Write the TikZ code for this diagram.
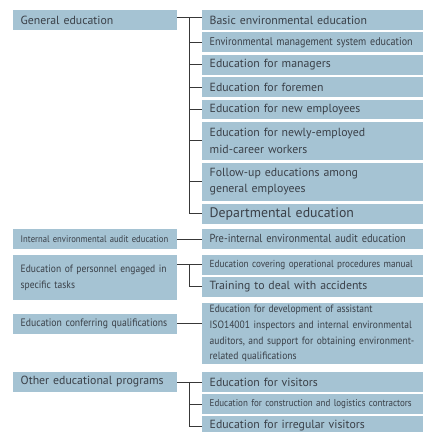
\documentclass[tikz,border=0pt]{standalone}
\usepackage{fontspec}
\setmainfont{PT Sans}
\newfontfamily\narrowfont[FakeStretch=0.9]{PT Sans}
\usepackage{xcolor}
\usetikzlibrary{positioning}

\definecolor{boxblue}{HTML}{A5C3D3}
\definecolor{inkgray}{HTML}{3A4048}
\definecolor{linegray}{HTML}{383838}

\begin{document}
\begin{tikzpicture}[x=1pt, y=1pt,
    entry/.style={rectangle, fill=boxblue, text=inkgray, inner xsep=7.7pt,
      inner ysep=0pt, outer sep=0pt, minimum height=19.8pt, align=left,
      font=\fontsize{11.8}{16.2}\selectfont},
    topic/.style={entry, text width=148.6pt},
    item/.style={entry, text width=205.6pt},
    tight/.style={font=\narrowfont\fontsize{#1}{15.7}\selectfont},
    large/.style={font=\fontsize{13.8}{16}\selectfont},
    link/.style={draw=linegray, line width=0.8pt},
  ]
    \useasboundingbox (0,0) rectangle (423,-432);

    % Right column
    \node[item, anchor=north west] (basic) at (202,-10) {Basic environmental education};
    \node[item, tight=11.2, below=2.6pt of basic] (ems) {Environmental management system education};
    \node[item, below=2.6pt of ems] (managers) {Education for managers};
    \node[item, below=2.6pt of managers] (foremen) {Education for foremen};
    \node[item, below=2.6pt of foremen] (newemp) {Education for new employees};
    \node[item, minimum height=37.7pt, below=2.6pt of newemp] (midcareer) {Education for newly-employed\\mid-career workers};
    \node[item, minimum height=38.3pt, below=3pt of midcareer] (followup) {Follow-up educations among\\general employees};
    \node[item, large, below=2.7pt of followup] (dept) {Departmental education};
    \node[item, tight=11.6, below=5.5pt of dept] (preaudit) {Pre-internal environmental audit education};
    \node[item, tight=10.2, below=5.9pt of preaudit] (cover) {Education covering operational procedures manual};
    \node[item, below=2.3pt of cover] (training) {Training to deal with accidents};
    \node[item, tight=10.6, minimum height=61.7pt, below=6.1pt of training] (develop) {Education for development of assistant\\ISO14001 inspectors and internal environmental\\auditors, and support for obtaining environment-\\related qualifications};
    \node[item, below=7.6pt of develop] (visitors) {Education for visitors};
    \node[item, tight=10, below=2.2pt of visitors] (contractors) {Education for construction and logistics contractors};
    \node[item, below=2.2pt of contractors] (irregular) {Education for irregular visitors};

    % Left column
    \node[topic, below left=0pt and 25pt of basic.north west] (general) {General education};
    \node[topic, tight=9.6, below left=0pt and 25pt of preaudit.north west] (internal) {Internal environmental audit education};
    \node[topic, tight=10.6, minimum height=45.7pt, below left=0pt and 25pt of cover.north west] (personnel) {Education of personnel engaged in\\specific tasks};
    \node[topic, tight=10.8, below left=11pt and 25pt of develop.north west] (qualify) {Education conferring qualifications};
    \node[topic, below left=0pt and 25pt of visitors.north west] (other) {Other educational programs};

    % Connectors
    \draw[link] ([yshift=2.3pt]general.east) -- ([yshift=2.3pt]basic.west);
    \draw[link] ([xshift=12pt, yshift=2.3pt]general.east) coordinate (g0) |- (dept.west);
    \foreach \n in {ems,managers,foremen,newemp,midcareer,followup}
      \draw[link] (g0 |- \n.west) -- (\n.west);

    \draw[link] (internal) -- (preaudit);

    \draw[link] (personnel.east |- cover.west) -- (cover.west);
    \draw[link] ([xshift=12pt]personnel.east |- cover.west) |- (training.west);

    \draw[link] (qualify) -- (qualify -| develop.west);

    \draw[link] (other) -- (visitors);
    \draw[link] ([xshift=12pt]other.east) coordinate (o0) |- (irregular.west);
    \draw[link] (o0 |- contractors.west) -- (contractors.west);
  \end{tikzpicture}
\end{document}
